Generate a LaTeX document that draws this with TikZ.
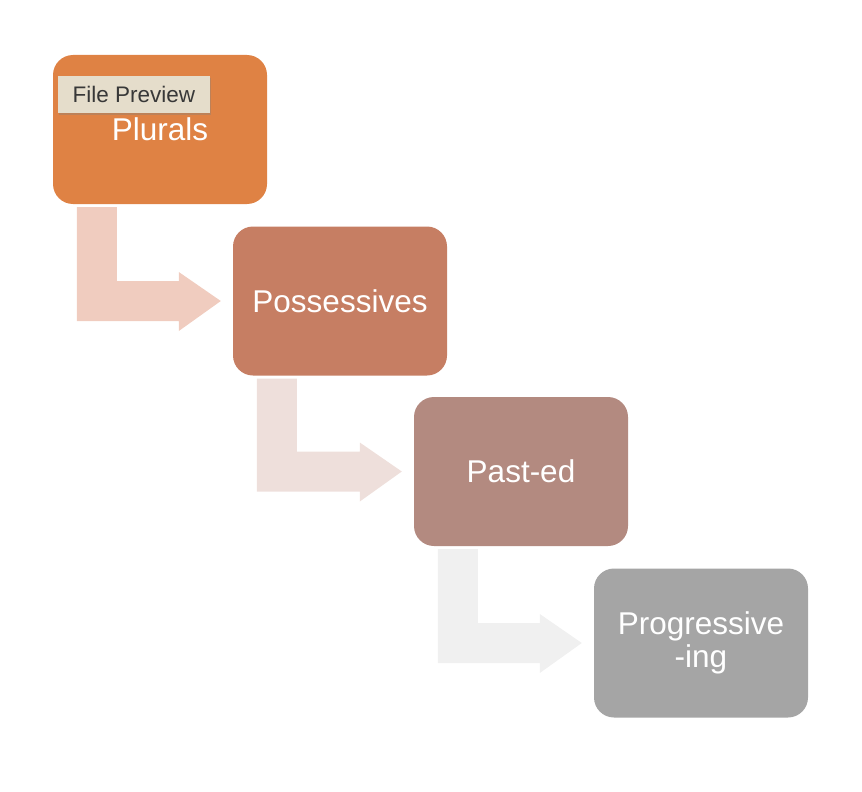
\documentclass[tikz,border=0pt]{standalone}
\usepackage{fontspec}
\setmainfont{Liberation Sans}
\usepackage{xcolor}
\usetikzlibrary{calc}
\usetikzlibrary{shadows}
\definecolor{plurcol}{HTML}{DF8244}
\definecolor{posscol}{HTML}{C67E63}
\definecolor{pastcol}{HTML}{B38A80}
\definecolor{progcol}{HTML}{A5A5A5}
\definecolor{arrowa}{HTML}{F0CCBF}
\definecolor{arrowb}{HTML}{EEDFDB}
\definecolor{arrowc}{HTML}{F0F0F0}
\definecolor{tipcol}{HTML}{E5DDCB}
\tikzset{
  stage/.style={rounded corners=20pt, minimum width=214pt, minimum height=149pt, text=white, align=center, font=\fontsize{31.5}{33}\selectfont},
  tipbox/.style={fill=tipcol, minimum width=152pt, minimum height=37pt, inner sep=0pt, text=black!78, font=\fontsize{22.5}{24}\selectfont, drop shadow={shadow xshift=1pt, shadow yshift=-2pt, opacity=0.35}}
}
% bent block arrow from the bottom of #1 to the left side of #2
\newcommand{\bentarrow}[3]{%
  \coordinate (tip) at ($(#2.west)+(-12,0)$);
  \fill[#3] ($(#1.south west)+(24,3)$) -- ++(40,0) |- ($(tip)+(-42,-20)$) -- ++(0,-9) -- (tip) -- ++(-42,30) -- ++(0,-10) -| ($(#1.south west)+(24,3)$) -- cycle;
}

\begin{document}
\begin{tikzpicture}[x=1pt,y=-1pt]
	\useasboundingbox (0,0) rectangle (862,792);
	%draw stages
	\node[stage, fill=plurcol] (plur) at (160,129.5) {Plurals};
	\node[stage, fill=posscol] (poss) at (340,301) {Possessives};
	\node[stage, fill=pastcol] (past) at (521,471.5) {Past-ed};
	\node[stage, fill=progcol] (prog) at (701,643) {Progressive\\-ing};
	%add arrows
	\bentarrow{plur}{poss}{arrowa}
	\bentarrow{poss}{past}{arrowb}
	\bentarrow{past}{prog}{arrowc}
	%preview label
	\node[tipbox] (tip) at (134,94.5) {File Preview};
\end{tikzpicture}
\end{document}
